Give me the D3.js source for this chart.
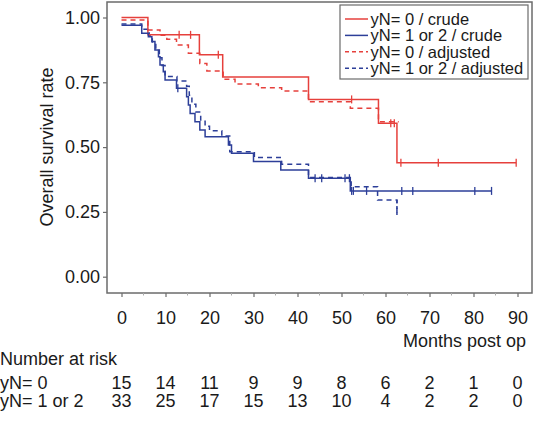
<!DOCTYPE html>
<html><head><meta charset="utf-8">
<script src="https://cdn.jsdelivr.net/npm/d3@7"></script>
<style>
html,body{margin:0;padding:0;background:#fff;}
svg{display:block;font-family:"Liberation Sans",Arial,Helvetica,sans-serif;}
</style></head>
<body><svg id="c" width="535" height="426"></svg>
<script>
// ---- data ----
const xTicks = [0,10,20,30,40,50,60,70,80,90];
const yTicks = [0,0.25,0.5,0.75,1.0];

const redCrudeTimes = [0, 6, 17.7, 23, 42.5, 58.4, 62.6];
const redCrudeSurv  = [1.0, 0.933, 0.856, 0.770, 0.684, 0.592, 0.44];
const redCrudeEnd   = 89.7;
const redCrudeCensor = [13.1, 15.7, 22, 52.3, 61.2, 62, 63.5, 72, 89.7];

const redAdjTimes = [0, 6, 8.75, 10.3, 12.5, 15.2, 17.8, 19.4, 23.1, 25.8, 31.1, 36.4, 42.5, 52, 58.4];
const redAdjSurv  = [0.99, 0.952, 0.932, 0.916, 0.894, 0.862, 0.823, 0.794, 0.762, 0.743, 0.729, 0.716, 0.675, 0.65, 0.598];
const redAdjEnd   = 63;

const blueCrudeTimes = [0, 4.6, 6.1, 6.9, 7.6, 8.4, 8.75, 9.5, 9.9, 12.5, 14.8, 15.2, 15.6, 16.7, 17.8, 19, 24.3, 25, 30, 36.2, 42.5, 52];
const blueCrudeSurv  = [0.97, 0.939, 0.926, 0.907, 0.875, 0.849, 0.817, 0.791, 0.759, 0.727, 0.694, 0.662, 0.63, 0.598, 0.566, 0.54, 0.508, 0.476, 0.444, 0.412, 0.38, 0.331];
const blueCrudeEnd   = 84.1;
const blueCrudeCensor = [12.8, 44, 45.5, 50.8, 51.8, 52.3, 52.7, 55.7, 63.7, 66.2, 80.3, 84.1];

const blueAdjTimes = [0, 4.6, 6.3, 7.0, 7.8, 8.6, 9.2, 9.9, 12.6, 14.8, 15.4, 16.0, 16.9, 18.0, 19.0, 20.0, 22.8, 24.6, 30.2, 36.4, 42.5, 52.2, 58.2, 62.6];
const blueAdjSurv  = [0.975, 0.955, 0.93, 0.905, 0.875, 0.845, 0.815, 0.772, 0.755, 0.735, 0.70, 0.665, 0.635, 0.60, 0.58, 0.563, 0.543, 0.482, 0.46, 0.434, 0.383, 0.347, 0.296, 0.238];
const blueAdjEnd   = 62.6;

const riskLabels = ["yN= 0", "yN= 1 or 2"];
const riskN0  = [15,14,11,9,9,8,6,2,1,0];
const riskN12 = [33,25,17,15,13,10,4,2,2,0];

const legendLabels = ["yN= 0 / crude","yN= 1 or 2 / crude","yN= 0 / adjusted","yN= 1 or 2 / adjusted"];

// ---- drawing ----
const RED = "#e6403c", BLUE = "#2d3f99";
const svg = d3.select("#c");
const x = d3.scaleLinear().domain([0,90]).range([121.5,517.5]);
const y = d3.scaleLinear().domain([0,1]).range([276.7,17.5]);
const frame = {l:107, t:2, r:532, b:293};

// frame
svg.append("rect").attr("x",frame.l).attr("y",frame.t)
  .attr("width",frame.r-frame.l).attr("height",frame.b-frame.t)
  .attr("fill","none").attr("stroke","#6b6b6b").attr("stroke-width",1.5);

// y axis
const yAx = svg.append("g").attr("transform",`translate(${frame.l},0)`)
  .call(d3.axisLeft(y).tickValues(yTicks).tickFormat(d3.format(".2f")).tickSize(4).tickPadding(3));
yAx.select(".domain").remove();
yAx.selectAll("line").attr("stroke","#6b6b6b").attr("stroke-width",1.2);
yAx.selectAll("text").attr("font-size",18).attr("fill","#1a1a1a").attr("font-family","Liberation Sans, Arial, sans-serif");

// x axis
const xAx = svg.append("g").attr("transform",`translate(0,${frame.b})`)
  .call(d3.axisBottom(x).tickValues(xTicks).tickSize(4).tickPadding(14));
xAx.select(".domain").remove();
xAx.selectAll("line").attr("stroke","#6b6b6b").attr("stroke-width",1.2);
xAx.selectAll("text").attr("font-size",18).attr("fill","#1a1a1a").attr("font-family","Liberation Sans, Arial, sans-serif");
// minor ticks
const minor = xTicks.slice(0,-1).map(d=>d+5);
svg.append("g").selectAll("line").data(minor).join("line")
  .attr("x1",d=>x(d)).attr("x2",d=>x(d)).attr("y1",frame.b).attr("y2",frame.b+2.5)
  .attr("stroke","#aaa").attr("stroke-width",1);

// titles
svg.append("text").attr("transform",`translate(53,${y(0.5)}) rotate(-90)`)
  .attr("text-anchor","middle").attr("font-size",18).attr("fill","#1a1a1a").text("Overall survival rate");
svg.append("text").attr("x",526).attr("y",347).attr("text-anchor","end")
  .attr("font-size",18).attr("fill","#1a1a1a").text("Months post op");

// curves
function stepData(times, surv, end){
  const pts = times.map((t,i)=>[t,surv[i]]);
  pts.push([end, surv[surv.length-1]]);
  return pts;
}
const line = d3.line().x(d=>x(d[0])).y(d=>y(d[1])).curve(d3.curveStepAfter);
const g = svg.append("g").attr("fill","none");
g.append("path").attr("d",line(stepData(redAdjTimes,redAdjSurv,redAdjEnd)))
  .attr("stroke",RED).attr("stroke-width",1.5).attr("stroke-dasharray","5,4");
g.append("path").attr("d",line(stepData(blueAdjTimes,blueAdjSurv,blueAdjEnd)))
  .attr("stroke",BLUE).attr("stroke-width",1.5).attr("stroke-dasharray","5,4");
g.append("path").attr("d",line([[blueAdjEnd,blueAdjSurv[blueAdjSurv.length-2]],[blueAdjEnd,blueAdjSurv[blueAdjSurv.length-1]]]))
  .attr("stroke",BLUE).attr("stroke-width",1.5).attr("stroke-dasharray","3,3");
g.append("path").attr("d",line(stepData(redCrudeTimes,redCrudeSurv,redCrudeEnd)))
  .attr("stroke",RED).attr("stroke-width",1.5);
g.append("path").attr("d",line(stepData(blueCrudeTimes,blueCrudeSurv,blueCrudeEnd)))
  .attr("stroke",BLUE).attr("stroke-width",1.5);

function survAt(times, surv, t){
  let v = surv[0];
  for(let i=0;i<times.length;i++){ if(times[i]<=t) v=surv[i]; }
  return v;
}
function censor(times, surv, cs, col){
  svg.append("g").selectAll("line").data(cs).join("line")
    .attr("x1",d=>x(d)).attr("x2",d=>x(d))
    .attr("y1",d=>y(survAt(times,surv,d))-4).attr("y2",d=>y(survAt(times,surv,d))+4)
    .attr("stroke",col).attr("stroke-width",1.3);
}
censor(redCrudeTimes,redCrudeSurv,redCrudeCensor,RED);
censor(blueCrudeTimes,blueCrudeSurv,blueCrudeCensor,BLUE);

// legend
const lg = svg.append("g");
lg.append("rect").attr("x",340).attr("y",5).attr("width",188).attr("height",74)
  .attr("fill","#fff").attr("stroke","#6b6b6b").attr("stroke-width",1.2);
const legStyles = [{c:RED,d:null},{c:BLUE,d:null},{c:RED,d:"4,3"},{c:BLUE,d:"4,3"}];
legendLabels.forEach((lab,i)=>{
  const cy = 19 + i*16.4;
  lg.append("line").attr("x1",345).attr("x2",368).attr("y1",cy).attr("y2",cy)
    .attr("stroke",legStyles[i].c).attr("stroke-width",1.5)
    .attr("stroke-dasharray",legStyles[i].d);
  lg.append("text").attr("x",370.5).attr("y",cy+6).attr("font-size",16.5)
    .attr("fill","#1a1a1a").text(lab);
});

// number at risk
svg.append("text").attr("x",0).attr("y",365).attr("font-size",18).attr("fill","#1a1a1a").text("Number at risk");
[riskN0, riskN12].forEach((row,ri)=>{
  const by = 389 + ri*18;
  svg.append("text").attr("x",0).attr("y",by).attr("font-size",18).attr("fill","#1a1a1a").text(riskLabels[ri]);
  svg.append("g").selectAll("text").data(row).join("text")
    .attr("x",(d,i)=>x(xTicks[i])).attr("y",by).attr("text-anchor","middle")
    .attr("font-size",18).attr("fill","#1a1a1a").text(d=>d);
});
</script></body></html>
